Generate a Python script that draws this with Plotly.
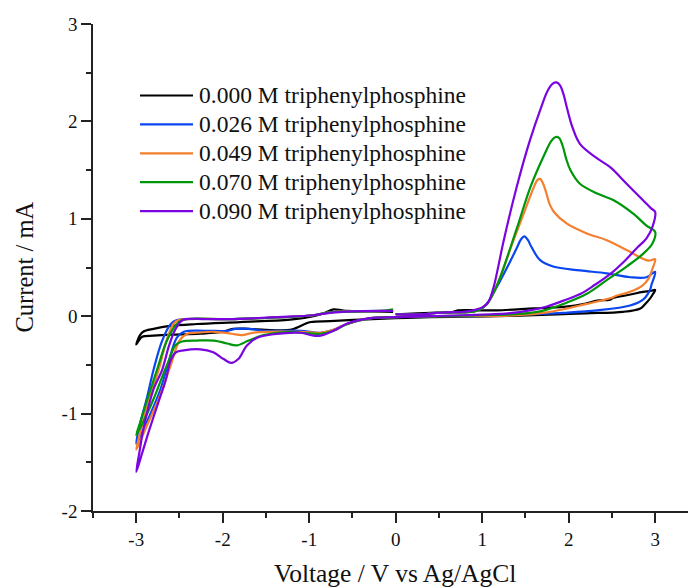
import plotly.graph_objects as go

# Cyclic voltammograms of triphenylphosphine solutions (scan 0 V -> +3 V -> -3 V -> 0 V)

labels = [
    "0.000 M triphenylphosphine",
    "0.026 M triphenylphosphine",
    "0.049 M triphenylphosphine",
    "0.070 M triphenylphosphine",
    "0.090 M triphenylphosphine",
]
colors = ["#000000", "#0a46f0", "#f47f2f", "#00960a", "#7a05e0"]

v_000 = [0.0, 0.4, 0.65, 0.72, 1.0, 1.17, 1.6, 1.94, 2.2, 2.33, 2.48, 2.52, 2.7, 2.86, 2.95, 3.0,
         2.97, 2.94, 2.88, 2.83, 2.63, 2.2, 1.94, 1.17, 0.4, 0.0, -0.4, -0.76, -0.98, -1.05, -1.15,
         -1.22, -1.5, -1.7, -1.88, -2.0, -2.26, -2.6, -2.8, -2.93, -2.97, -3.0,
         -2.96, -2.92, -2.8, -2.61, -2.3, -1.8, -1.22, -0.95, -0.83, -0.72, -0.62, -0.56, -0.3, -0.03]
i_000 = [0.02, 0.035, 0.04, 0.06, 0.06, 0.06, 0.08, 0.095, 0.13, 0.16, 0.17, 0.19, 0.22, 0.25, 0.26, 0.27,
         0.22, 0.18, 0.12, 0.08, 0.045, 0.03, 0.02, 0.0, -0.01, -0.02, -0.035, -0.05, -0.06, -0.08, -0.12,
         -0.14, -0.14, -0.13, -0.13, -0.16, -0.18, -0.19, -0.2, -0.21, -0.25, -0.29,
         -0.2, -0.16, -0.13, -0.1, -0.08, -0.06, -0.035, 0.0, 0.03, 0.07, 0.06, 0.055, 0.05, 0.045]

v_026 = [0.0, 0.3, 0.56, 0.8, 0.95, 1.05, 1.12, 1.2, 1.3, 1.4, 1.45, 1.49, 1.53, 1.57, 1.67, 1.82,
         2.13, 2.44, 2.71, 2.9, 3.0,
         2.96, 2.94, 2.86, 2.71, 2.33, 1.94, 1.55, 1.0, 0.5, 0.0, -0.29, -0.56, -0.72, -0.87, -1.1,
         -1.5, -1.7, -1.85, -1.95, -2.2, -2.45, -2.53, -2.62, -2.72, -2.86, -3.0,
         -2.96, -2.88, -2.8, -2.7, -2.6, -2.53, -1.9, -0.95, -0.76, -0.38, -0.03]
i_026 = [0.02, 0.02, 0.04, 0.04, 0.06, 0.12, 0.22, 0.35, 0.52, 0.7, 0.79, 0.82, 0.78, 0.71, 0.575, 0.51,
         0.47, 0.44, 0.4, 0.4, 0.455,
         0.33, 0.27, 0.17, 0.11, 0.06, 0.035, 0.02, 0.0, 0.0, -0.01, -0.02, -0.08, -0.14, -0.17, -0.15,
         -0.15, -0.13, -0.13, -0.15, -0.15, -0.16, -0.22, -0.45, -0.75, -1.05, -1.31,
         -1.12, -0.85, -0.55, -0.25, -0.08, -0.04, -0.03, 0.01, 0.04, 0.05, 0.055]

v_049 = [0.0, 0.3, 0.56, 0.8, 0.95, 1.05, 1.12, 1.2, 1.35, 1.5, 1.6, 1.64, 1.67, 1.7, 1.74, 1.78, 1.83,
         1.98, 2.21, 2.44, 2.67, 2.86, 2.93, 3.0,
         2.97, 2.92, 2.86, 2.71, 2.55, 2.5, 2.13, 1.75, 1.4, 1.0, 0.5, 0.0, -0.29, -0.56, -0.72, -0.87,
         -1.1, -1.5, -1.65, -1.78, -1.9, -2.1, -2.3, -2.41, -2.5, -2.6, -2.74, -2.88, -3.0,
         -2.95, -2.85, -2.74, -2.65, -2.57, -2.51, -1.9, -0.95, -0.76, -0.38, -0.03]
i_049 = [0.02, 0.02, 0.04, 0.04, 0.06, 0.12, 0.22, 0.38, 0.75, 1.1, 1.33, 1.40, 1.41, 1.37, 1.27, 1.15, 1.07,
         0.95, 0.85, 0.78, 0.68, 0.59, 0.57, 0.585,
         0.49, 0.38, 0.32, 0.25, 0.21, 0.19, 0.11, 0.04, 0.01, 0.0, 0.0, -0.01, -0.02, -0.08, -0.14, -0.17,
         -0.16, -0.16, -0.17, -0.195, -0.18, -0.16, -0.17, -0.18, -0.25, -0.5, -0.85, -1.13, -1.37,
         -1.18, -0.85, -0.55, -0.25, -0.08, -0.04, -0.03, 0.01, 0.04, 0.05, 0.055]

v_070 = [0.0, 0.3, 0.56, 0.8, 0.95, 1.05, 1.12, 1.2, 1.4, 1.56, 1.72, 1.8, 1.85, 1.89, 1.93, 1.97, 2.02,
         2.13, 2.33, 2.52, 2.75, 2.9, 3.0,
         2.97, 2.86, 2.67, 2.44, 2.21, 1.98, 1.67, 1.36, 1.0, 0.5, 0.0, -0.29, -0.56, -0.72, -0.87,
         -1.1, -1.22, -1.53, -1.7, -1.84, -1.95, -2.1, -2.3, -2.47, -2.55, -2.62, -2.69, -2.8, -2.9, -3.0,
         -2.95, -2.87, -2.76, -2.65, -2.55, -2.47, -1.9, -0.95, -0.76, -0.38, -0.1, -0.03]
i_070 = [0.02, 0.02, 0.04, 0.04, 0.06, 0.12, 0.22, 0.38, 0.9, 1.33, 1.66, 1.80, 1.84, 1.83, 1.75, 1.62, 1.5,
         1.36, 1.26, 1.19, 1.05, 0.93, 0.865,
         0.75, 0.64, 0.51, 0.37, 0.23, 0.14, 0.05, 0.02, 0.01, 0.0, -0.01, -0.02, -0.08, -0.15, -0.18,
         -0.17, -0.16, -0.195, -0.25, -0.3, -0.28, -0.25, -0.25, -0.26, -0.3, -0.45, -0.6, -0.85, -1.05, -1.22,
         -1.08, -0.85, -0.55, -0.26, -0.1, -0.04, -0.03, 0.01, 0.04, 0.05, 0.06, 0.07]

v_090 = [0.0, 0.3, 0.56, 0.78, 0.94, 1.02, 1.08, 1.12, 1.15, 1.25, 1.4, 1.55, 1.68, 1.76, 1.82, 1.86, 1.9,
         1.94, 1.98, 2.04, 2.13, 2.33, 2.48, 2.67, 2.86, 2.95, 3.0,
         2.97, 2.9, 2.8, 2.65, 2.49, 2.3, 2.14, 1.94, 1.75, 1.55, 1.3, 1.1, 0.78, 0.4, 0.0, -0.29, -0.56,
         -0.72, -0.87, -0.95, -1.1, -1.41, -1.6, -1.72, -1.82, -1.9, -1.99, -2.11, -2.26, -2.45, -2.54,
         -2.6, -2.66, -2.75, -2.85, -2.93, -3.0,
         -2.96, -2.92, -2.8, -2.7, -2.62, -2.55, -2.48, -2.43, -2.2, -1.91, -1.4, -0.95, -0.76, -0.5,
         -0.2, -0.03]
i_090 = [0.02, 0.02, 0.04, 0.045, 0.07, 0.1, 0.16, 0.26, 0.36, 0.78, 1.33, 1.8, 2.14, 2.32, 2.39, 2.40, 2.37,
         2.28, 2.14, 1.95, 1.77, 1.62, 1.53, 1.36, 1.19, 1.11, 1.07,
         0.92, 0.8, 0.71, 0.57, 0.44, 0.32, 0.23, 0.16, 0.1, 0.06, 0.03, 0.02, 0.01, 0.0, -0.01, -0.02, -0.075,
         -0.15, -0.2, -0.2, -0.17, -0.185, -0.22, -0.3, -0.44, -0.48, -0.44, -0.37, -0.34, -0.35, -0.37,
         -0.45, -0.66, -0.9, -1.17, -1.4, -1.6,
         -1.38, -1.17, -0.75, -0.55, -0.3, -0.14, -0.05, -0.03, -0.03, -0.03, -0.01, 0.01, 0.035, 0.05,
         0.055, 0.055]

voltages = [v_000, v_026, v_049, v_070, v_090]
currents = [i_000, i_026, i_049, i_070, i_090]

x_ticks = [-3, -2, -1, 0, 1, 2, 3]
x_ticktext = ["-3", "-2", "-1", "0", "1", "2", "3"]
y_ticks = [-2, -1, 0, 1, 2, 3]
y_ticktext = ["-2", "-1", "0", "1", "2", "3"]

FONT = "Liberation Serif"
W, H = 688, 588
ML, MR, MT, MB = 93, 0, 24, 77
PW, PH = W - ML - MR, H - MT - MB

fig = go.Figure()
for v, i, name, c in zip(voltages, currents, labels, colors):
    fig.add_trace(go.Scatter(
        x=v, y=i, mode="lines", name=name,
        line=dict(color=c, width=2.2, shape="spline", smoothing=1.0),
        showlegend=False, hoverinfo="skip",
    ))


def px_x(px):
    return (px - ML) / PW


def px_y(py):
    return (H - MB - py) / PH


# hand-drawn legend block
for k, (name, c) in enumerate(zip(labels, colors)):
    row = 95.5 + k * 28.9
    fig.add_shape(type="line", xref="paper", yref="paper",
                  x0=px_x(140), x1=px_x(193), y0=px_y(row), y1=px_y(row),
                  line=dict(color=c, width=2.2))
    fig.add_annotation(xref="paper", yref="paper", x=px_x(197), y=px_y(row),
                       xanchor="left", yanchor="middle", text=name, showarrow=False,
                       font=dict(family=FONT, size=23.5, color="#111"))

# axis titles
fig.add_annotation(xref="paper", yref="paper", x=px_x(395), y=px_y(573), xanchor="center",
                   yanchor="middle", text="Voltage / V vs Ag/AgCl", showarrow=False,
                   font=dict(family=FONT, size=25.5, color="#111"))
fig.add_annotation(xref="paper", yref="paper", x=px_x(24), y=0.5, xanchor="center",
                   yanchor="middle", text="Current / mA", textangle=-90, showarrow=False,
                   font=dict(family=FONT, size=24.5, color="#111"))

axis_line = dict(showline=True, linecolor="#222", linewidth=1.6, showgrid=False, zeroline=False)

fig.update_layout(
    width=W, height=H,
    margin=dict(l=ML, r=MR, t=MT, b=MB, pad=0),
    paper_bgcolor="white", plot_bgcolor="white",
    font=dict(family=FONT, size=19, color="#111"),
    xaxis=dict(range=[-3.5, 3.38], tickvals=x_ticks, ticktext=x_ticktext,
               ticks="outside", ticklen=10, tickwidth=1.6, tickcolor="#222",
               minor=dict(dtick=0.5, tick0=0, ticks="outside", ticklen=5, tickwidth=1.6, tickcolor="#222"),
               tickfont=dict(family=FONT, size=19, color="#111"), **axis_line),
    xaxis2=dict(range=[-3.5, 3.38], overlaying="x", side="top", matches="x",
                tickvals=x_ticks, showticklabels=False,
                ticks="inside", ticklen=9, tickwidth=1.6, tickcolor="#222",
                minor=dict(dtick=0.5, tick0=0, ticks="inside", ticklen=5, tickwidth=1.6, tickcolor="#222"),
                **axis_line),
    yaxis=dict(range=[-2, 3], tickvals=y_ticks, ticktext=y_ticktext,
               ticks="outside", ticklen=10, tickwidth=1.6, tickcolor="#222",
               minor=dict(dtick=0.5, tick0=0, ticks="outside", ticklen=5, tickwidth=1.6, tickcolor="#222"),
               tickfont=dict(family=FONT, size=19, color="#111"), **axis_line),
)

fig.write_html("out.html")
